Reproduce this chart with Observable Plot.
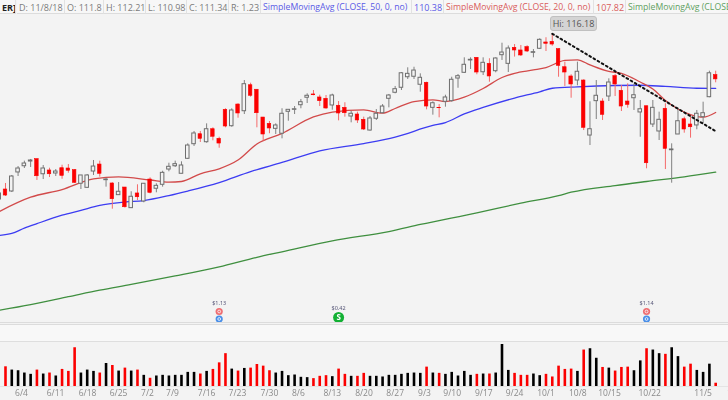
<!DOCTYPE html>
<html>
<head>
<meta charset="utf-8">
<script src="https://cdn.jsdelivr.net/npm/d3@7"></script>
<script src="https://cdn.jsdelivr.net/npm/@observablehq/plot@0.6"></script>
<style>
html,body{margin:0;padding:0;background:#f3f3f3;}
#page{position:relative;width:728px;height:400px;overflow:hidden;background:#f3f3f3;font-family:"Open Sans",sans-serif;}
#page svg{position:absolute;left:0;overflow:hidden;background:transparent;filter:blur(0.3px);}
.cell{position:absolute;top:0;height:14px;line-height:15px;font-size:9px;white-space:nowrap;color:#7b7b7b;background:#f7f7f7;padding:0 2px;box-sizing:border-box;border-right:1px solid #e2e2e2;border-bottom:1px solid #dcdcdc;overflow:hidden;}
.cell.sma{font-size:8.7px;}
#hi{position:absolute;left:550px;top:16px;width:47px;height:15px;line-height:14px;text-align:center;font-size:9px;color:#555;background:#d4d4d4;border:1px solid #c0c0c0;border-radius:3px;box-sizing:border-box;}
.band{position:absolute;left:0;width:728px;}
</style>
</head>
<body>
<div id="page"></div>
<script>
const firstBar = -1;
const opens = [98.59,99.65,99.44,101.46,102.12,102.62,102.87,101.27,101.67,101.35,101.91,101.88,101.70,100.26,99.83,101.56,102.30,100.64,100.29,99.05,99.86,97.67,99.23,98.38,100.71,99.73,100.15,101.77,102.12,101.32,102.91,104.46,105.52,104.67,106.05,105.03,108.11,106.37,108.67,107.96,110.72,110.24,107.29,106.62,106.09,105.57,107.90,108.11,108.60,109.39,109.74,109.42,109.28,108.57,108.54,108.32,107.40,107.61,107.05,105.91,107.16,107.75,109.28,109.92,110.45,111.57,111.62,110.77,110.98,108.32,108.32,108.96,109.03,111.43,112.04,113.35,113.63,112.10,112.99,112.21,113.91,112.99,114.69,114.41,114.76,114.16,114.59,115.26,115.33,114.55,112.63,111.65,111.22,111.22,105.38,109.03,108.99,109.52,111.68,110.13,108.99,109.34,107.83,108.49,106.55,105.81,108.22,103.82,105.49,107.11,106.55,106.45,107.33,109.45,111.80];
const highs = [99.44,100.29,101.14,102.09,102.66,102.84,102.87,102.20,101.91,101.77,102.23,102.30,101.77,101.14,101.24,102.73,102.66,100.85,100.36,100.39,99.86,99.41,100.15,100.29,100.89,100.26,101.59,102.44,102.66,102.59,104.50,105.81,105.81,106.62,106.20,105.20,108.22,108.22,108.75,111.22,110.94,110.24,107.29,106.87,106.62,108.22,108.11,108.46,109.21,109.81,110.16,109.66,109.63,109.77,108.99,108.86,107.96,107.86,107.33,107.40,108.14,108.67,109.74,110.59,112.07,112.57,112.63,111.93,111.04,108.96,108.67,109.66,111.57,111.86,113.63,113.63,113.63,113.63,113.53,113.63,115.18,114.89,115.04,114.94,114.91,114.51,115.65,115.76,116.18,114.59,113.17,111.83,113.17,111.30,108.96,111.22,109.28,111.40,111.86,110.69,110.87,110.80,109.10,108.49,109.10,107.86,108.75,104.50,108.04,107.33,107.51,108.04,108.92,112.21,112.21];
const lows = [98.38,98.91,99.33,101.03,101.88,101.99,100.61,100.71,100.92,101.03,100.74,101.38,100.29,99.65,99.76,101.14,100.96,99.90,97.56,99.05,97.67,97.63,98.48,98.24,99.19,99.30,99.90,101.53,101.99,101.32,102.84,104.22,104.64,104.57,104.82,104.03,106.20,106.26,107.22,107.61,109.45,106.20,104.78,105.57,105.49,105.03,106.90,107.61,108.22,108.78,109.60,108.46,108.17,108.07,106.94,107.33,106.73,106.66,105.91,105.84,106.98,107.69,108.32,109.81,110.16,111.33,111.33,109.98,108.11,107.54,107.26,108.39,108.92,110.40,111.97,112.39,111.83,111.75,111.04,112.04,113.35,112.07,113.71,113.77,114.19,113.63,114.51,114.30,114.86,111.57,110.59,109.34,110.66,105.91,104.32,107.08,106.98,108.99,109.52,107.93,108.28,108.04,105.20,101.85,106.23,104.85,101.77,100.32,105.49,105.63,105.10,105.99,106.62,109.39,110.98];
const closes = [99.23,99.01,101.03,101.88,102.41,102.73,101.06,101.88,101.27,101.56,101.10,101.64,100.36,101.14,101.14,102.09,101.32,100.71,98.62,99.41,97.77,98.88,98.83,100.26,99.30,100.04,101.42,102.06,102.34,102.20,104.32,105.60,105.03,106.05,105.25,104.53,106.34,108.04,107.72,110.83,109.60,107.75,105.49,106.13,106.45,107.69,108.11,108.17,108.92,109.60,109.66,109.03,108.25,109.63,107.72,107.75,107.69,106.98,106.02,107.19,107.69,108.46,109.63,110.30,111.99,111.93,112.28,111.51,108.46,108.81,108.28,109.42,111.30,111.68,112.89,113.42,112.07,113.10,111.65,113.56,114.19,114.62,114.41,113.88,114.30,114.23,115.54,115.12,115.04,112.78,112.07,110.80,112.15,106.20,106.05,109.60,107.58,111.01,110.80,108.46,108.64,109.66,108.17,102.44,108.32,107.05,103.97,103.90,106.90,106.02,106.26,107.69,107.75,111.99,111.34];
const volumes = [60,50,48,41,37,50,38,41,32,52,46,118,41,50,46,41,70,64,47,56,47,50,34,25,32,34,32,34,34,43,43,38,46,52,72,100,53,47,55,56,67,62,48,41,46,33,35,28,27,24,31,33,30,53,37,31,31,40,31,31,29,34,34,37,40,41,40,59,41,40,37,43,32,46,34,37,38,38,41,128,49,40,34,34,38,33,37,29,62,52,53,46,111,115,86,58,56,47,58,59,48,78,115,111,100,98,118,91,59,68,49,43,68,10];

const sma20Bars = [-1,4,9,14,18,23,26,28,31,34,37,40,44,49,52,57,60,62,65,68,70,73,76,79,81,84,86,89,91,93,96,98,101,103,105,107,109,111,113];
const sma20Vals = [97.31,98.83,99.65,100.79,101.00,100.66,100.43,100.50,101.32,101.85,102.78,104.48,105.60,107.35,107.86,108.11,107.75,108.25,108.99,109.17,108.99,109.45,110.37,111.54,111.99,112.34,112.60,113.35,113.42,112.87,112.18,111.99,111.06,110.32,109.10,108.20,107.61,107.33,107.82];
const sma50Bars = [-1,1,3,5,9,12,15,19,22,26,29,34,39,44,50,57,62,68,70,73,76,81,85,87,91,97,101,105,110,113];
const sma50Vals = [94.77,94.98,95.54,96.02,96.92,97.44,97.97,98.32,98.48,99.01,99.49,100.39,101.56,102.52,103.74,104.53,105.22,106.45,106.76,107.67,108.36,109.36,110.02,110.40,110.55,110.69,110.72,110.59,110.40,110.38];
const sma200Bars = [-1,4,10,15,20,27,34,40,44,52,61,66,75,82,88,90,97,102,108,113];
const sma200Vals = [86.84,87.44,88.27,88.97,89.57,90.47,91.44,92.45,93.03,94.20,95.19,95.94,97.18,98.20,99.01,99.36,100.07,100.50,100.99,101.49];
const trendBars = [87,113];
const trendVals = [116.18,105.84];

const tickLabels = ["6/4","6/11","6/18","6/25","7/2","7/9","7/16","7/23","7/30","8/6","8/13","8/20","8/27","9/3","9/10","9/17","9/24","10/1","10/8","10/15","10/22","11/5","11/12"];
const tickSlots = [2.55,7.96,13.05,17.98,22.6,26.57,32,36.9,42,46.6,52,57.04,62,66.67,71.07,76.1,81,86,91.06,96.1,102.5,111,116.6];

const earningsBars = [34,102];
const earningsAmounts = ["$1.13","$1.14"];
const splitBars = [53];
const splitAmounts = ["$0.42"];

const headerCells = [
  ["ER]",0,16,"#222",true],["D: 11/8/18",17,48],["O: 111.8",65,39],["H: 112.21",104,42],["L: 110.98",146,41],
  ["C: 111.34",187,42],["R: 1.23",229,32],["SimpleMovingAvg (CLOSE, 50, 0, no)",261,151,"#5a5ae6","sma"],["110.38",412,32,"#5a5ae6"],
  ["SimpleMovingAvg (CLOSE, 20, 0, no)",444,150,"#d95c5c","sma"],["107.82",594,32,"#d95c5c"],["SimpleMovingAvg (CLOSE, 200, 0, no)",626,160,"#5f9f5f","sma"]
];

const candles = opens.map((o,k)=>({bar:firstBar+k,open:o,high:highs[k],low:lows[k],close:closes[k]}));
const bars = candles.slice(1).map((c,k)=>({bar:c.bar,volume:volumes[k],down:c.close<c.open}));
const up = candles.filter(c=>c.close>=c.open);
const down = candles.filter(c=>c.close<c.open);
const line = (xs,ys)=>xs.map((x,k)=>({bar:x,value:ys[k]}));
const xDomain = [-0.7955,115.04];
const page = document.getElementById("page");

for (const [t,left,w,col,flag] of headerCells){
  const d=document.createElement("div");d.className="cell";d.textContent=t;
  d.style.left=left+"px";d.style.width=w+"px";
  if(col)d.style.color=col;
  if(flag===true)d.style.fontWeight="700";
  if(flag==="sma")d.classList.add("sma");
  page.appendChild(d);
}
for (const [top,h,bg] of [[322,1,"#dcdcdc"],[324,1,"#dcdcdc"],[325,16,"#f8f8f8"],[341,1,"#dedede"]]){
  const d=document.createElement("div");d.className="band";
  d.style.top=top+"px";d.style.height=h+"px";d.style.background=bg;page.appendChild(d);
}

const price = Plot.plot({
  width:728,height:322,margin:0,
  x:{domain:xDomain,range:[0,728],axis:null},
  y:{domain:[119.715,119.715-322*0.10616],range:[0,322],axis:null},
  marks:[
    Plot.line(line(sma200Bars,sma200Vals),{x:"bar",y:"value",stroke:"#3f8f3f",strokeWidth:1.3,curve:"monotone-x"}),
    Plot.line(line(sma50Bars,sma50Vals),{x:"bar",y:"value",stroke:"#3c3cf2",strokeWidth:1.3,curve:"monotone-x"}),
    Plot.line(line(sma20Bars,sma20Vals),{x:"bar",y:"value",stroke:"#d24a4a",strokeWidth:1.3,curve:"monotone-x"}),
    Plot.ruleX(up,{x:"bar",y1:"low",y2:"high",stroke:"#808080",strokeWidth:1}),
    Plot.ruleX(down,{x:"bar",y1:"low",y2:"high",stroke:"#f46a6a",strokeWidth:1}),
    Plot.rect(up,{x1:d=>d.bar-0.28,x2:d=>d.bar+0.28,y1:"open",y2:"close",fill:"#f3f3f3",stroke:"#6e6e6e",strokeWidth:1}),
    Plot.rect(down,{x1:d=>d.bar-0.28,x2:d=>d.bar+0.28,y1:"open",y2:"close",fill:"#fb0000",stroke:"#fb0000",strokeWidth:0.6}),
    Plot.line(line(trendBars,trendVals),{x:"bar",y:"value",stroke:"#111",strokeWidth:2,strokeDasharray:"1.8 3"}),
    Plot.dot(earningsBars,{x:d=>d,frameAnchor:"bottom",dy:-11,r:3.6,fill:"#ee6e72"}),
    Plot.dot(earningsBars,{x:d=>d,frameAnchor:"bottom",dy:-11,r:1.4,stroke:"#fff",strokeWidth:0.8,fill:"none"}),
    Plot.dot(earningsBars,{x:d=>d,frameAnchor:"bottom",dy:-3.5,r:3.6,fill:"#4a8fe8"}),
    Plot.dot(earningsBars,{x:d=>d,frameAnchor:"bottom",dy:-3.5,r:1.4,stroke:"#fff",strokeWidth:0.8,fill:"none"}),
    Plot.text(earningsAmounts,{x:(d,k)=>earningsBars[k],text:d=>d,frameAnchor:"bottom",dy:-17.5,fontSize:5.5,fill:"#557"}),
    Plot.dot(splitBars,{x:d=>d,frameAnchor:"bottom",dy:-5,r:5.5,fill:"#12b033"}),
    Plot.text(splitBars,{x:d=>d,text:()=>"S",frameAnchor:"bottom",dy:-5,lineAnchor:"middle",fontSize:8,fontWeight:700,fill:"#fff"}),
    Plot.text(splitAmounts,{x:(d,k)=>splitBars[k],text:d=>d,frameAnchor:"bottom",dy:-13,fontSize:5.5,fill:"#557"})
  ]
});
price.style.top="0px";
page.appendChild(price);

const hi=document.createElement("div");hi.id="hi";hi.textContent="Hi: 116.18";page.appendChild(hi);

const volume = Plot.plot({
  width:728,height:58,marginLeft:0,marginRight:0,marginTop:0,marginBottom:14,
  x:{domain:xDomain,range:[0,728],axis:null},
  y:{domain:[0,134],axis:null},
  marks:[
    Plot.ruleY([0],{stroke:"#e4e4e4",strokeWidth:1}),
    Plot.ruleX(bars,{x:"bar",y1:0,y2:"volume",stroke:d=>d.down?"#fb0000":"#000",strokeWidth:2.6}),
    Plot.text(tickLabels,{x:(d,k)=>tickSlots[k],text:d=>d,frameAnchor:"bottom",dy:7,lineAnchor:"middle",fontSize:8.5,fill:"#8a8a8a",fontFamily:"Open Sans"})
  ]
});
volume.style.top="342px";
page.appendChild(volume);
</script>
</body>
</html>
